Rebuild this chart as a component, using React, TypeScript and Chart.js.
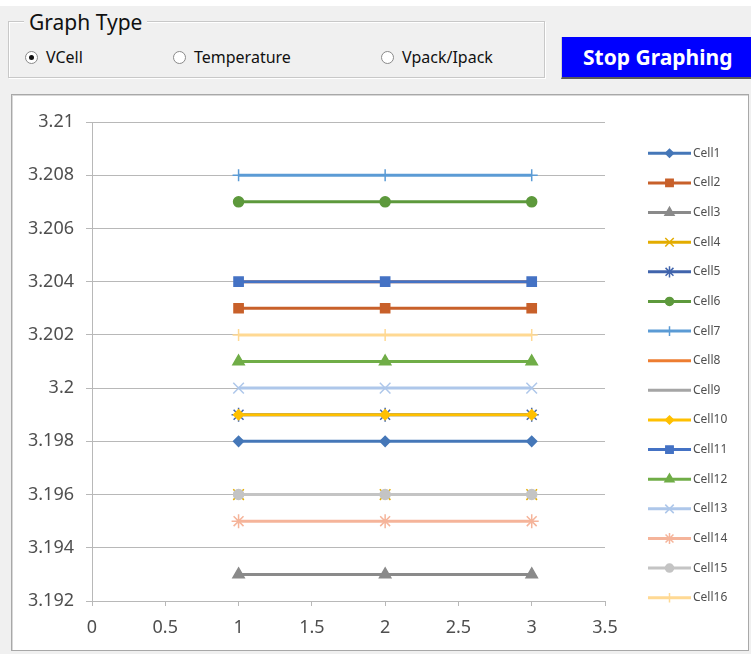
import React, { useEffect, useRef } from 'react';
import { Chart, registerables } from 'chart.js';

Chart.register(...registerables);

// ---------- data ----------
const xValues = [1, 2, 3];
const cellNames = ['Cell1', 'Cell2', 'Cell3', 'Cell4', 'Cell5', 'Cell6', 'Cell7', 'Cell8',
  'Cell9', 'Cell10', 'Cell11', 'Cell12', 'Cell13', 'Cell14', 'Cell15', 'Cell16'];
const cell1 = [3.198, 3.198, 3.198];
const cell2 = [3.203, 3.203, 3.203];
const cell3 = [3.193, 3.193, 3.193];
const cell4 = [3.196, 3.196, 3.196];
const cell5 = [3.199, 3.199, 3.199];
const cell6 = [3.207, 3.207, 3.207];
const cell7 = [3.208, 3.208, 3.208];
const cell8 = [3.204, 3.204, 3.204];
const cell9 = [3.196, 3.196, 3.196];
const cell10 = [3.199, 3.199, 3.199];
const cell11 = [3.204, 3.204, 3.204];
const cell12 = [3.201, 3.201, 3.201];
const cell13 = [3.2, 3.2, 3.2];
const cell14 = [3.195, 3.195, 3.195];
const cell15 = [3.196, 3.196, 3.196];
const cell16 = [3.202, 3.202, 3.202];
const cellValues = [cell1, cell2, cell3, cell4, cell5, cell6, cell7, cell8,
  cell9, cell10, cell11, cell12, cell13, cell14, cell15, cell16];
const yMin = 3.192;
const yMax = 3.21;
const yStep = 0.002;
const xMin = 0;
const xMax = 3.5;
const xStep = 0.5;

// ---------- styles ----------
type Style = { color: string; marker: string; radius: number; filled: boolean };
const seriesStyles: Style[] = [
  { color: '#4577b8', marker: 'rectRot', radius: 5, filled: true },
  { color: '#c8602a', marker: 'rect', radius: 6.5, filled: true },
  { color: '#8a8a8a', marker: 'triangle', radius: 6.5, filled: true },
  { color: '#e3ac00', marker: 'crossRot', radius: 7.5, filled: false },
  { color: '#4064ac', marker: 'star', radius: 7, filled: false },
  { color: '#5d993c', marker: 'circle', radius: 5, filled: true },
  { color: '#5b9bd5', marker: 'cross', radius: 6, filled: false },
  { color: '#ed7d31', marker: 'none', radius: 0, filled: true },
  { color: '#a5a5a5', marker: 'none', radius: 0, filled: true },
  { color: '#ffc000', marker: 'rectRot', radius: 5, filled: true },
  { color: '#4472c4', marker: 'rect', radius: 6.5, filled: true },
  { color: '#70ad47', marker: 'triangle', radius: 6.5, filled: true },
  { color: '#aec7ea', marker: 'crossRot', radius: 7.5, filled: false },
  { color: '#f5b49a', marker: 'star', radius: 7, filled: false },
  { color: '#c4c4c4', marker: 'circle', radius: 5, filled: true },
  { color: '#ffd993', marker: 'cross', radius: 6, filled: false },
];

const FONT = '"Noto Sans", "Open Sans", sans-serif';
const GRID = '#b8b8b8';
const TEXT = '#4f4f4f';

function drawMarker(ctx: CanvasRenderingContext2D, st: Style, x: number, y: number, r: number) {
  if (st.marker === 'none' || r <= 0) return;
  ctx.save();
  ctx.fillStyle = st.color;
  ctx.strokeStyle = st.color;
  ctx.lineWidth = 1.5;
  ctx.beginPath();
  const s = Math.SQRT1_2 * r;
  switch (st.marker) {
    case 'circle':
      ctx.arc(x, y, r, 0, Math.PI * 2);
      break;
    case 'rect':
      ctx.rect(x - s, y - s, 2 * s, 2 * s);
      break;
    case 'rectRot':
      ctx.moveTo(x, y - r); ctx.lineTo(x + r, y); ctx.lineTo(x, y + r); ctx.lineTo(x - r, y); ctx.closePath();
      break;
    case 'triangle': {
      const a = Math.PI * 2 / 3;
      ctx.moveTo(x, y - r);
      ctx.lineTo(x + Math.sin(a) * r, y - Math.cos(a) * r);
      ctx.lineTo(x + Math.sin(2 * a) * r, y - Math.cos(2 * a) * r);
      ctx.closePath();
      break;
    }
    case 'cross':
      ctx.moveTo(x, y - r); ctx.lineTo(x, y + r); ctx.moveTo(x - r, y); ctx.lineTo(x + r, y);
      break;
    case 'crossRot':
      ctx.moveTo(x - s, y - s); ctx.lineTo(x + s, y + s); ctx.moveTo(x + s, y - s); ctx.lineTo(x - s, y + s);
      break;
    case 'star':
      ctx.moveTo(x, y - r); ctx.lineTo(x, y + r);
      ctx.moveTo(x - s, y - s); ctx.lineTo(x + s, y + s); ctx.moveTo(x + s, y - s); ctx.lineTo(x - s, y + s);
      break;
  }
  if (st.filled) ctx.fill();
  ctx.stroke();
  ctx.restore();
}

const legendPlugin = {
  id: 'excelLegend',
  afterDraw(chart: any) {
    const ctx: CanvasRenderingContext2D = chart.ctx;
    const top = 55.3;
    const gap = 29.63;
    const x0 = 634;
    const x1 = 677;
    ctx.save();
    cellNames.forEach((name, i) => {
      const st = seriesStyles[i];
      const y = top + i * gap;
      ctx.strokeStyle = st.color;
      ctx.lineWidth = 3;
      ctx.beginPath();
      ctx.moveTo(x0, y);
      ctx.lineTo(x1, y);
      ctx.stroke();
      drawMarker(ctx, st, (x0 + x1) / 2, y, st.radius * 0.8);
      ctx.fillStyle = TEXT;
      ctx.font = '12px ' + FONT;
      ctx.textAlign = 'left';
      ctx.textBaseline = 'middle';
      ctx.fillText(name, 679, y);
    });
    ctx.restore();
  },
};

const fmt = (v: any, digits: number) => String(parseFloat(Number(v).toFixed(digits)));

function CellChart() {
  const ref = useRef<HTMLCanvasElement>(null);
  useEffect(() => {
    if (!ref.current) return;
    const datasets = cellNames.map((name, i) => {
      const st = seriesStyles[i];
      const ps = st.marker === 'none' ? 'circle' : st.marker;
      return {
        label: name,
        data: xValues.map((x, j) => ({ x, y: cellValues[i][j] })),
        borderColor: st.color,
        backgroundColor: st.color,
        borderWidth: 3,
        pointStyle: ps,
        pointRadius: st.radius,
        pointHoverRadius: st.radius,
        pointBorderWidth: 1.5,
        pointBorderColor: st.color,
        pointBackgroundColor: st.filled ? st.color : 'rgba(0,0,0,0)',
        order: cellNames.length - i,
        tension: 0,
      };
    });
    const chart = new Chart(ref.current, {
      type: 'line',
      data: { datasets },
      options: {
        animation: false,
        responsive: false,
        maintainAspectRatio: false,
        layout: { padding: { top: 24, right: 143, left: 0, bottom: 0 } },
        plugins: { legend: { display: false }, tooltip: { enabled: false } },
        scales: {
          x: {
            type: 'linear',
            min: xMin,
            max: xMax,
            ticks: {
              stepSize: xStep, color: TEXT, font: { family: FONT, size: 18 }, padding: 11, maxRotation: 0,
              callback: (v: any) => fmt(v, 2),
            },
            grid: { drawOnChartArea: false, drawTicks: true, tickLength: 5, color: GRID },
            border: { display: true, color: GRID },
            afterFit: (s: any) => { s.height = 49; },
          },
          y: {
            type: 'linear',
            min: yMin,
            max: yMax,
            ticks: {
              stepSize: yStep,
              color: TEXT,
              font: { family: FONT, size: 18 },
              padding: 12,
              callback: (v: any) => fmt(v, 3),
            },
            grid: { color: GRID, tickLength: 6, drawTicks: true },
            border: { display: true, color: GRID },
            afterFit: (s: any) => { s.width = 78; },
          },
        },
      },
      plugins: [legendPlugin],
    } as any);
    return () => chart.destroy();
  }, []);
  return (
    <canvas ref={ref} width={734} height={552}
      style={{ position: 'absolute', left: 14, top: 98, width: 734, height: 552 }} />
  );
}

function Radio({ x, label, checked }: { x: number; label: string; checked?: boolean }) {
  return (
    <div style={{ position: 'absolute', left: x, top: 47, height: 20, display: 'flex', alignItems: 'center' }}>
      <div style={{
        width: 11, height: 11, borderRadius: '50%', border: '1px solid #8a8a8a', background: '#fff',
        display: 'flex', alignItems: 'center', justifyContent: 'center', boxSizing: 'content-box',
      }}>
        {checked ? <div style={{ width: 5, height: 5, borderRadius: '50%', background: '#111' }} /> : null}
      </div>
      <span style={{ marginLeft: 8, fontSize: 16, fontFamily: FONT, color: '#111', whiteSpace: 'nowrap' }}>{label}</span>
    </div>
  );
}

export default function App() {
  return (
    <div style={{ position: 'fixed', left: 0, top: 0, width: 751, height: 654, background: '#f0f0f0', overflow: 'hidden' }}>
      <div style={{ position: 'absolute', left: 0, top: 0, width: 751, height: 6, background: '#ffffff' }} />
      {/* group box */}
      <div style={{
        position: 'absolute', left: 8, top: 21, width: 535, height: 55,
        border: '1px solid #c8c8c8', boxShadow: 'inset 1px 1px 0 #fff, 1px 1px 0 #fff',
      }} />
      <div style={{
        position: 'absolute', left: 24, top: 8, padding: '0 5px', background: '#f0f0f0',
        fontFamily: FONT, fontSize: 21, lineHeight: '28px', color: '#111',
      }}>Graph Type</div>
      <Radio x={25} label="VCell" checked />
      <Radio x={173} label="Temperature" />
      <Radio x={381} label="Vpack/Ipack" />
      {/* button */}
      <div style={{
        position: 'absolute', left: 561, top: 37, width: 190, height: 42, background: '#0000ff',
        borderBottom: '2px solid #5a5a5a', borderLeft: '1px solid #d0d0d0', boxSizing: 'border-box',
        color: '#fff', fontFamily: FONT, fontWeight: 700, fontSize: 21,
        display: 'flex', alignItems: 'center', paddingLeft: 21, whiteSpace: 'nowrap',
      }}>Stop Graphing</div>
      {/* chart panel */}
      <div style={{
        position: 'absolute', left: 11, top: 94, width: 738, height: 557, boxSizing: 'border-box',
        border: '1px solid #a8a8a8', background: '#fff', boxShadow: 'inset 1px 1px 0 #d8d8d8',
      }} />
      <CellChart />
    </div>
  );
}
